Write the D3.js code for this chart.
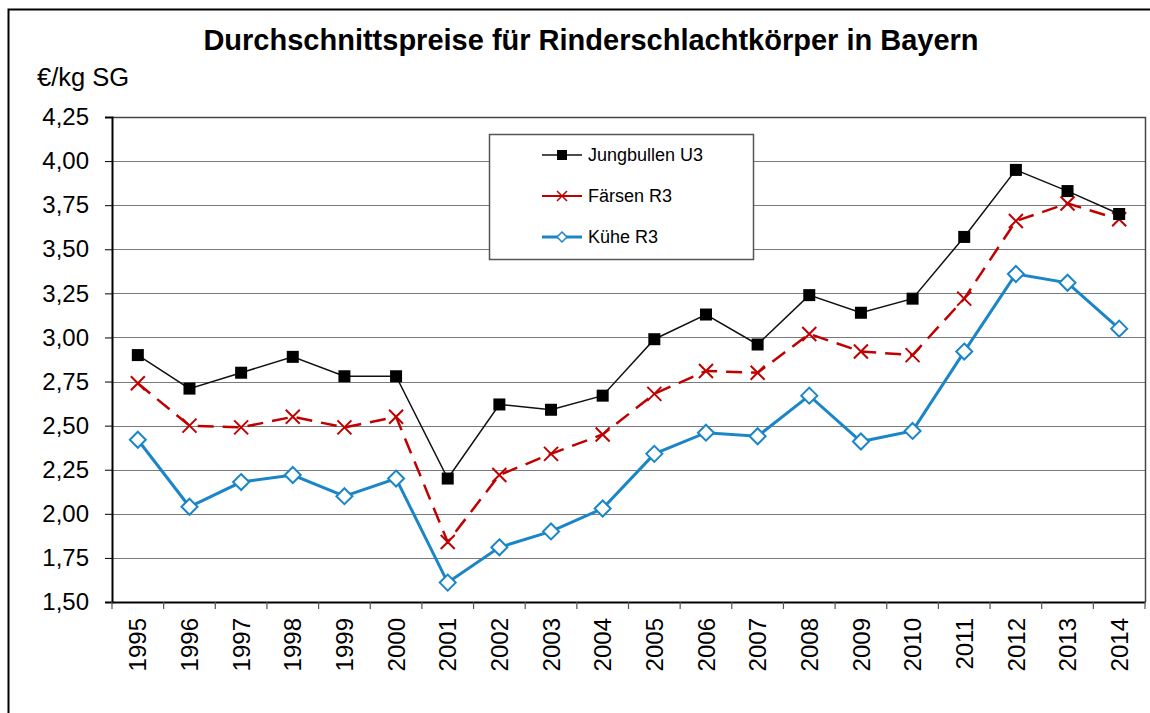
<!DOCTYPE html>
<html>
<head>
<meta charset="utf-8">
<script src="https://cdn.jsdelivr.net/npm/d3@7"></script>
<style>
  body { margin: 0; background: #fff; }
  text { font-family: "Liberation Sans", Arial, sans-serif; }
</style>
</head>
<body>
<div id="chart"></div>
<script>
// data
const years = ['1995','1996','1997','1998','1999','2000','2001','2002','2003','2004',
  '2005','2006','2007','2008','2009','2010','2011','2012','2013','2014'];
const jungbullen = [2.90,2.71,2.80,2.89,2.78,2.78,2.20,2.62,2.59,2.67,2.99,3.13,2.96,3.24,3.14,3.22,3.57,3.95,3.83,3.70];
const faersen = [2.74,2.50,2.49,2.55,2.49,2.55,1.84,2.22,2.34,2.45,2.68,2.81,2.80,3.02,2.92,2.90,3.22,3.66,3.76,3.67];
const kuehe = [2.42,2.04,2.18,2.22,2.10,2.20,1.61,1.81,1.90,2.03,2.34,2.46,2.44,2.67,2.41,2.47,2.92,3.36,3.31,3.05];
const yTicks = [1.5,1.75,2.0,2.25,2.5,2.75,3.0,3.25,3.5,3.75,4.0,4.25];

const seriesNames = ['Jungbullen U3','Färsen R3','Kühe R3'];

let W = 1150, H = 713;
let pLeft = 112, pRight = 1145, pTop = 117, pBottom = 602;

let svg = d3.select('#chart').append('svg')
    .attr('width', W)
    .attr('height', H);

// outer frame
svg.append('rect')
    .attr('x', 8.5).attr('y', 9.5)
    .attr('width', W + 20).attr('height', H + 20)
    .attr('fill', 'none')
    .attr('stroke', '#000')
    .attr('stroke-width', 2);

let x = d3.scaleBand().domain(years).range([pLeft, pRight]);
let y = d3.scaleLinear().domain([1.5, 4.25]).range([pBottom, pTop]);
let fmt = d => d3.format('.2f')(d).replace('.', ',');

// gridlines
svg.append('g')
    .selectAll('line')
    .data(yTicks.slice(1))
    .enter().append('line')
    .attr('x1', pLeft).attr('x2', pRight)
    .attr('y1', d => Math.round(y(d)) + 0.5)
    .attr('y2', d => Math.round(y(d)) + 0.5)
    .attr('stroke', '#7a7a7a')
    .attr('stroke-width', 1);

// plot border (top/right)
svg.append('path')
    .attr('d', `M${pLeft},${pTop + 0.5}H${pRight + 0.5}V${pBottom}`)
    .attr('fill', 'none')
    .attr('stroke', '#444')
    .attr('stroke-width', 1.5);

// y axis
let yAxis = svg.append('g')
    .attr('transform', `translate(${pLeft},0)`)
    .call(d3.axisLeft(y).tickValues(yTicks).tickFormat(fmt).tickSize(7).tickPadding(16));
yAxis.select('.domain').attr('stroke', '#000').attr('stroke-width', 2);
yAxis.selectAll('.tick line').attr('stroke', '#000');
yAxis.selectAll('text')
    .attr('font-size', 24)
    .attr('font-family', '"Liberation Sans", Arial, sans-serif')
    .attr('fill', '#000');

// x axis: ticks at band boundaries
let xAxis = svg.append('g')
    .attr('transform', `translate(0,${pBottom})`)
    .call(d3.axisBottom(x).tickSize(0).tickPadding(0));
xAxis.select('.domain').attr('stroke', '#000').attr('stroke-width', 2);
xAxis.selectAll('text')
    .attr('font-size', 24)
    .attr('font-family', '"Liberation Sans", Arial, sans-serif')
    .attr('fill', '#000')
    .attr('transform', 'rotate(-90)')
    .attr('text-anchor', 'end')
    .attr('x', -16)
    .attr('y', 0)
    .attr('dy', '0.36em');
svg.append('g')
    .selectAll('line')
    .data(years.concat(['end']))
    .enter().append('line')
    .attr('x1', (d, i) => pLeft + i * x.bandwidth())
    .attr('x2', (d, i) => pLeft + i * x.bandwidth())
    .attr('y1', pBottom)
    .attr('y2', pBottom + 7)
    .attr('stroke', '#555')
    .attr('stroke-width', 1.2);

let cx = (d, i) => x(years[i]) + x.bandwidth() / 2;
let line = d3.line().x(cx).y(d => y(d));

// Kühe
svg.append('path')
    .datum(kuehe)
    .attr('d', line)
    .attr('fill', 'none')
    .attr('stroke', '#1a86c8')
    .attr('stroke-width', 3);
svg.append('g').selectAll('path')
    .data(kuehe)
    .enter().append('path')
    .attr('d', 'M0,-8L8,0L0,8L-8,0Z')
    .attr('transform', (d, i) => `translate(${cx(d, i)},${y(d)})`)
    .attr('fill', '#fff')
    .attr('stroke', '#1a86c8')
    .attr('stroke-width', 2);

// Färsen
svg.append('path')
    .datum(faersen)
    .attr('d', line)
    .attr('fill', 'none')
    .attr('stroke', '#c00000')
    .attr('stroke-width', 2.5)
    .attr('stroke-dasharray', '16,9');
svg.append('g').selectAll('path')
    .data(faersen)
    .enter().append('path')
    .attr('d', 'M-7,-7L7,7M-7,7L7,-7')
    .attr('transform', (d, i) => `translate(${cx(d, i)},${y(d)})`)
    .attr('stroke', '#c00000')
    .attr('stroke-width', 2);

// Jungbullen
svg.append('path')
    .datum(jungbullen)
    .attr('d', line)
    .attr('fill', 'none')
    .attr('stroke', '#111')
    .attr('stroke-width', 1.5);
svg.append('g').selectAll('rect')
    .data(jungbullen)
    .enter().append('rect')
    .attr('x', (d, i) => cx(d, i) - 6)
    .attr('y', d => y(d) - 6)
    .attr('width', 12).attr('height', 12)
    .attr('fill', '#000');

// legend
let lg = svg.append('g');
lg.append('rect')
    .attr('x', 489.5).attr('y', 134.5)
    .attr('width', 264).attr('height', 125)
    .attr('fill', '#fff')
    .attr('stroke', '#555')
    .attr('stroke-width', 1.5);
let ly = [155, 196, 237];
let lx1 = 542, lx2 = 582, lm = 562;
// row 1
lg.append('line').attr('x1', lx1).attr('x2', lx2).attr('y1', ly[0]).attr('y2', ly[0])
    .attr('stroke', '#111').attr('stroke-width', 1.5);
lg.append('rect').attr('x', lm - 5).attr('y', ly[0] - 5).attr('width', 10).attr('height', 10).attr('fill', '#000');
// row 2
lg.append('line').attr('x1', lx1).attr('x2', lx2).attr('y1', ly[1]).attr('y2', ly[1])
    .attr('stroke', '#c00000').attr('stroke-width', 2);
lg.append('path').attr('d', `M${lm - 5},${ly[1] - 5}L${lm + 5},${ly[1] + 5}M${lm - 5},${ly[1] + 5}L${lm + 5},${ly[1] - 5}`)
    .attr('stroke', '#c00000').attr('stroke-width', 1.5);
// row 3
lg.append('line').attr('x1', lx1).attr('x2', lx2).attr('y1', ly[2]).attr('y2', ly[2])
    .attr('stroke', '#1a86c8').attr('stroke-width', 3);
lg.append('path').attr('d', `M${lm},${ly[2] - 5}L${lm + 5},${ly[2]}L${lm},${ly[2] + 5}L${lm - 5},${ly[2]}Z`)
    .attr('fill', '#fff').attr('stroke', '#1a86c8').attr('stroke-width', 1.5);
lg.selectAll('text.lbl')
    .data(seriesNames)
    .enter().append('text')
    .attr('class', 'lbl')
    .attr('x', 588)
    .attr('y', (d, i) => ly[i])
    .attr('dy', '0.36em')
    .attr('font-size', 18)
    .attr('fill', '#000')
    .text(d => d);

// title and unit
svg.append('text')
    .attr('x', 591).attr('y', 50)
    .attr('text-anchor', 'middle')
    .attr('font-size', 29)
    .attr('font-weight', 'bold')
    .text('Durchschnittspreise für Rinderschlachtkörper in Bayern');
svg.append('text')
    .attr('x', 37).attr('y', 86)
    .attr('font-size', 25.5)
    .text('€/kg SG');
</script>
</body>
</html>
